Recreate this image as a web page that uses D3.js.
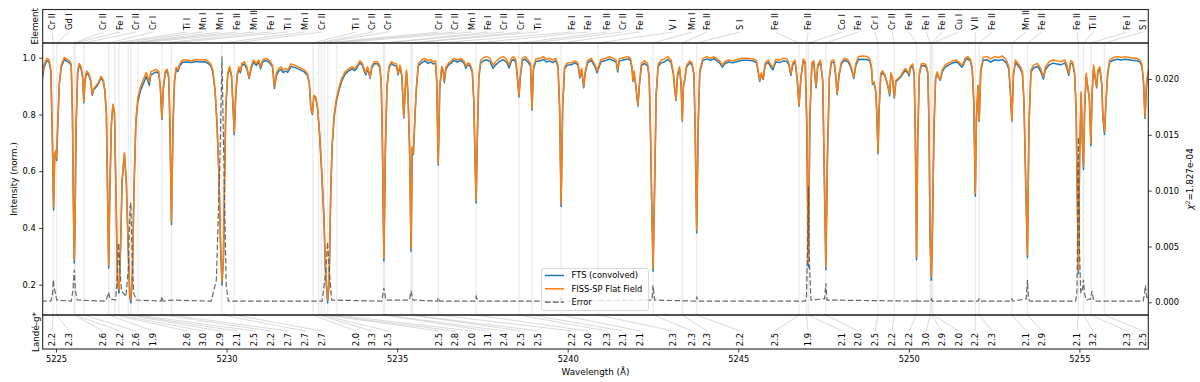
<!DOCTYPE html>
<html>
<head>
<meta charset="utf-8">
<script src="https://cdn.jsdelivr.net/npm/d3@7"></script>
<style>
body { margin: 0; background: #fff; }
text { font-family: "DejaVu Sans", sans-serif; fill: #000; }
</style>
</head>
<body>
<script>
// spectrum samples (wavelength in Angstrom, normalized intensity)
var wavelength = [
 5224.570,5224.648,5224.727,5224.794,5224.850,5224.895,5224.929,5224.962,5224.996,5225.018,
 5225.052,5225.097,5225.153,5225.243,5225.321,5225.400,5225.445,5225.479,5225.512,5225.535,
 5225.557,5225.591,5225.636,5225.681,5225.737,5225.782,5225.815,5225.849,5225.894,5225.961,
 5226.017,5226.062,5226.107,5226.230,5226.320,5226.387,5226.432,5226.477,5226.511,5226.544,
 5226.578,5226.623,5226.668,5226.713,5226.758,5226.802,5226.847,5226.892,5226.937,5227.005,
 5227.061,5227.117,5227.162,5227.195,5227.240,5227.285,5227.341,5227.397,5227.476,5227.566,
 5227.644,5227.689,5227.734,5227.779,5227.846,5227.936,5228.014,5228.059,5228.104,5228.149,
 5228.205,5228.261,5228.306,5228.340,5228.385,5228.430,5228.474,5228.519,5228.575,5228.631,
 5228.721,5228.856,5228.968,5229.102,5229.248,5229.360,5229.473,5229.540,5229.596,5229.664,
 5229.720,5229.776,5229.821,5229.866,5229.911,5229.944,5229.978,5230.034,5230.090,5230.146,
 5230.191,5230.225,5230.270,5230.314,5230.359,5230.404,5230.449,5230.516,5230.595,5230.662,
 5230.718,5230.785,5230.875,5230.943,5230.999,5231.055,5231.156,5231.268,5231.347,5231.403,
 5231.459,5231.526,5231.594,5231.661,5231.728,5231.796,5231.885,5231.998,5232.132,5232.278,
 5232.368,5232.424,5232.469,5232.514,5232.558,5232.615,5232.671,5232.727,5232.783,5232.850,
 5232.907,5232.962,5233.007,5233.052,5233.097,5233.153,5233.220,5233.299,5233.389,5233.479,
 5233.591,5233.680,5233.748,5233.815,5233.905,5233.972,5234.039,5234.084,5234.129,5234.174,
 5234.208,5234.253,5234.331,5234.421,5234.488,5234.533,5234.567,5234.612,5234.657,5234.702,
 5234.758,5234.825,5234.915,5234.982,5235.027,5235.083,5235.139,5235.195,5235.240,5235.274,
 5235.319,5235.364,5235.408,5235.442,5235.476,5235.521,5235.566,5235.621,5235.722,5235.812,
 5235.902,5235.991,5236.059,5236.126,5236.160,5236.205,5236.250,5236.306,5236.351,5236.384,
 5236.429,5236.508,5236.597,5236.665,5236.766,5236.867,5236.957,5237.013,5237.069,5237.136,
 5237.203,5237.248,5237.282,5237.316,5237.349,5237.394,5237.450,5237.540,5237.630,5237.720,
 5237.809,5237.888,5238.000,5238.112,5238.213,5238.280,5238.348,5238.415,5238.482,5238.527,
 5238.572,5238.617,5238.673,5238.751,5238.841,5238.909,5238.953,5238.998,5239.066,5239.200,
 5239.290,5239.380,5239.470,5239.560,5239.649,5239.717,5239.762,5239.807,5239.852,5239.908,
 5239.986,5240.098,5240.210,5240.300,5240.356,5240.412,5240.468,5240.513,5240.580,5240.692,
 5240.805,5240.861,5240.974,5241.111,5241.225,5241.339,5241.419,5241.465,5241.511,5241.659,
 5241.773,5241.841,5241.887,5241.910,5241.944,5241.990,5242.058,5242.104,5242.161,5242.252,
 5242.343,5242.389,5242.423,5242.457,5242.503,5242.549,5242.594,5242.651,5242.743,5242.845,
 5242.937,5243.028,5243.096,5243.142,5243.176,5243.222,5243.279,5243.324,5243.359,5243.393,
 5243.427,5243.484,5243.575,5243.644,5243.701,5243.735,5243.781,5243.826,5243.872,5243.963,
 5244.077,5244.191,5244.283,5244.374,5244.454,5244.534,5244.603,5244.717,5244.830,5244.967,
 5245.104,5245.275,5245.446,5245.537,5245.583,5245.629,5245.674,5245.731,5245.788,5245.880,
 5245.960,5246.017,5246.097,5246.211,5246.325,5246.427,5246.484,5246.541,5246.598,5246.667,
 5246.724,5246.781,5246.838,5246.906,5246.963,5247.009,5247.055,5247.100,5247.157,5247.215,
 5247.260,5247.283,5247.328,5247.408,5247.477,5247.522,5247.568,5247.614,5247.671,5247.728,
 5247.808,5247.853,5247.899,5247.956,5248.024,5248.115,5248.207,5248.275,5248.332,5248.389,
 5248.446,5248.526,5248.640,5248.777,5248.857,5248.903,5248.937,5248.983,5249.028,5249.062,
 5249.097,5249.131,5249.177,5249.233,5249.302,5249.370,5249.416,5249.439,5249.473,5249.519,
 5249.576,5249.622,5249.690,5249.758,5249.827,5249.895,5249.964,5250.009,5250.044,5250.112,
 5250.158,5250.192,5250.226,5250.260,5250.306,5250.363,5250.443,5250.511,5250.557,5250.591,
 5250.625,5250.660,5250.694,5250.740,5250.785,5250.831,5250.877,5250.922,5250.979,5251.059,
 5251.173,5251.288,5251.402,5251.470,5251.550,5251.595,5251.652,5251.721,5251.801,5251.857,
 5251.903,5251.949,5251.983,5252.029,5252.063,5252.108,5252.177,5252.291,5252.405,5252.519,
 5252.633,5252.747,5252.861,5252.930,5252.976,5253.021,5253.067,5253.124,5253.204,5253.273,
 5253.329,5253.375,5253.432,5253.477,5253.523,5253.580,5253.660,5253.774,5253.865,5253.945,
 5254.002,5254.116,5254.230,5254.344,5254.458,5254.573,5254.630,5254.687,5254.744,5254.801,
 5254.858,5254.903,5254.937,5254.972,5255.006,5255.052,5255.086,5255.120,5255.155,5255.200,
 5255.246,5255.291,5255.337,5255.371,5255.417,5255.462,5255.508,5255.542,5255.599,5255.656,
 5255.690,5255.736,5255.781,5255.827,5255.884,5255.998,5256.112,5256.226,5256.340,5256.455,
 5256.569,5256.683,5256.774,5256.832,5256.877,5256.923,5256.968,5257.014,5257.048
];

var fissFlat = [
 .909,.974,.998,.994,.957,.710,.475,.663,.674,.645,
 .768,.910,.974,1.001,.994,.989,.978,.827,.475,.287,
 .416,.768,.957,.980,.968,.933,.845,.921,.953,.945,
 .921,.872,.892,.910,.935,.921,.886,.804,.533,.269,
 .533,.768,.836,.810,.533,.216,.181,.334,.569,.665,
 .569,.334,.169,.146,.240,.533,.780,.857,.898,.924,
 .948,.933,.915,.951,.954,.959,.951,.898,.786,.898,
 .954,.959,.933,.768,.422,.768,.921,.966,.959,.980,
 .992,.992,.989,.994,.992,.994,.986,.978,.957,.886,
 .768,.592,.355,.209,.310,.592,.827,.945,.970,.939,
 .827,.735,.874,.945,.968,.954,.980,.986,.968,.931,
 .968,.992,.980,.992,.968,.992,.998,.989,.974,.898,
 .945,.962,.968,.957,.962,.957,.978,.974,.966,.957,
 .945,.915,.827,.804,.868,.862,.821,.733,.616,.451,
 .240,.146,.216,.522,.698,.798,.857,.898,.931,.951,
 .962,.968,.961,.970,.989,.982,.959,.945,.968,.951,
 .931,.970,.986,.986,.974,.921,.710,.293,.686,.898,
 .968,.986,.980,.978,.945,.974,.939,.792,.898,.957,
 .874,.686,.328,.686,.663,.792,.898,.980,.992,.998,
 .989,.994,.986,.989,.921,.627,.898,.970,.957,.919,
 .966,.982,.989,.998,.992,.998,.989,.970,.982,.978,
 .957,.850,.651,.498,.710,.933,.992,1.001,1.004,.998,
 .974,.986,.998,1.004,.994,.974,.998,1.004,.992,.933,
 .868,.945,.998,1.004,.992,.980,.821,.968,.996,.998,
 1.004,.994,.998,.992,.998,.974,.827,.486,.827,.968,
 .982,.982,.989,.982,.933,.962,.898,.951,.989,.998,
 .974,.954,.994,.998,1.004,.998,.992,.957,.996,1.001,
 1.004,.996,.968,.921,.954,.910,.833,.910,.980,.989,
 .980,.933,.768,.533,.257,.557,.874,.978,.992,.996,
 1.004,.992,.951,.886,.853,.945,.968,.910,.780,.904,
 .921,.974,.989,.982,.945,.757,.392,.768,.957,.998,
 1.004,.998,1.004,.996,.989,.974,.986,.992,.989,.994,
 .998,.998,.996,.989,.957,.921,.947,.927,.982,.992,
 .974,.966,.994,.992,.998,.996,.982,.945,.982,.992,
 .933,.833,.933,.996,.986,.768,.275,.792,.982,.989,
 .921,.898,.974,.992,.921,.592,.263,.651,.933,.989,
 .992,.945,.874,.945,.986,.998,.994,.980,.959,.931,
 .980,1.004,1.006,1.004,.996,.970,.910,.915,.886,.804,
 .668,.827,.945,.954,.939,.910,.886,.872,.947,.933,
 .862,.921,.927,.935,.951,.962,.954,.942,.970,.978,
 .945,.710,.298,.710,.945,.978,.980,.973,.951,.768,
 .357,.228,.416,.768,.931,.951,.933,.924,.957,.974,
 .982,.989,.992,.985,.974,.980,.998,1.004,.996,.968,
 .850,.522,.792,.904,.780,.957,1.001,1.004,.996,1.004,
 1.001,1.006,.992,.968,.886,.780,.945,.992,.980,.968,
 .951,.850,.533,.305,.768,.957,.974,.980,.962,.933,
 .968,.986,.992,.989,.986,.992,.974,.945,.989,.986,
 .951,.827,.533,.251,.651,.880,.710,.616,.827,.945,
 .898,.862,.698,.874,.974,.933,.898,.957,.968,.910,
 .792,.739,.850,.945,.992,1.001,1.004,1.001,1.004,1.001,
 .998,.998,.992,.978,.921,.792,.910,.951,.968
];

var ftsConvolved = [
 .905,.965,.990,.986,.950,.706,.463,.658,.669,.638,
 .764,.906,.967,.994,.987,.982,.971,.823,.467,.276,
 .408,.764,.950,.973,.961,.929,.841,.917,.946,.938,
 .917,.868,.887,.905,.929,.916,.882,.800,.525,.259,
 .525,.764,.832,.806,.525,.206,.171,.326,.561,.660,
 .561,.326,.159,.136,.232,.525,.770,.843,.884,.910,
 .934,.920,.903,.940,.944,.950,.944,.894,.782,.894,
 .947,.952,.929,.764,.412,.764,.917,.959,.952,.973,
 .984,.985,.983,.987,.985,.986,.979,.971,.950,.882,
 .764,.584,.347,.199,.300,.584,.823,.939,.963,.934,
 .823,.729,.870,.939,.961,.947,.973,.978,.961,.927,
 .961,.984,.973,.985,.961,.985,.991,.982,.967,.892,
 .936,.953,.959,.948,.953,.949,.969,.966,.959,.950,
 .938,.911,.823,.800,.864,.858,.817,.729,.610,.443,
 .230,.136,.206,.514,.694,.790,.847,.888,.922,.943,
 .955,.961,.954,.963,.982,.975,.952,.939,.961,.945,
 .927,.963,.979,.979,.967,.917,.706,.283,.682,.894,
 .961,.979,.973,.971,.940,.967,.935,.788,.894,.950,
 .870,.682,.318,.682,.659,.788,.894,.972,.983,.989,
 .980,.985,.978,.981,.917,.622,.894,.962,.950,.913,
 .959,.975,.982,.991,.985,.991,.982,.963,.975,.971,
 .950,.846,.645,.488,.706,.929,.982,.990,.992,.987,
 .963,.975,.987,.993,.984,.964,.988,.994,.983,.928,
 .862,.938,.990,.995,.983,.972,.816,.960,.987,.989,
 .994,.985,.989,.983,.990,.967,.823,.476,.823,.961,
 .974,.975,.982,.975,.929,.955,.894,.944,.982,.991,
 .967,.947,.986,.990,.996,.990,.985,.950,.988,.993,
 .996,.989,.961,.917,.947,.906,.829,.906,.972,.980,
 .971,.929,.764,.525,.247,.549,.870,.969,.982,.986,
 .994,.983,.944,.882,.849,.938,.961,.906,.776,.900,
 .917,.967,.982,.975,.940,.753,.382,.764,.950,.990,
 .996,.991,.997,.989,.982,.967,.979,.985,.982,.987,
 .991,.991,.989,.982,.950,.917,.940,.923,.975,.984,
 .966,.958,.985,.983,.989,.987,.974,.938,.975,.985,
 .929,.829,.929,.989,.979,.764,.262,.788,.975,.982,
 .917,.894,.967,.985,.917,.584,.253,.647,.929,.982,
 .985,.938,.870,.938,.979,.991,.987,.973,.952,.927,
 .973,.994,.995,.994,.988,.963,.906,.911,.882,.800,
 .662,.823,.938,.947,.935,.906,.882,.866,.940,.929,
 .858,.917,.923,.931,.944,.955,.947,.936,.963,.971,
 .938,.706,.288,.706,.938,.971,.973,.966,.944,.764,
 .347,.216,.406,.764,.927,.944,.929,.920,.950,.966,
 .975,.982,.985,.978,.967,.973,.991,.997,.989,.961,
 .846,.512,.788,.900,.776,.950,.991,.993,.985,.993,
 .990,.994,.982,.960,.882,.776,.938,.984,.972,.960,
 .944,.846,.525,.295,.764,.950,.964,.970,.952,.925,
 .958,.975,.981,.978,.975,.982,.965,.938,.981,.978,
 .944,.823,.523,.239,.645,.874,.704,.606,.823,.938,
 .894,.856,.690,.870,.967,.929,.894,.950,.961,.906,
 .786,.730,.846,.938,.984,.992,.995,.992,.995,.993,
 .990,.990,.985,.971,.917,.786,.906,.945,.962
];

// residual error (right axis)
var errWave = [5224.57,5224.85,5224.90,5224.92,5224.95,5224.98,5225.02,5225.45,5225.50,5225.535,
 5225.57,5225.62,5226.45,5226.52,5226.545,5226.58,5226.75,5226.80,5226.835,5226.87,
 5226.92,5226.98,5227.05,5227.12,5227.17,5227.195,5227.23,5227.28,5227.35,5228.08,
 5228.10,5228.14,5228.38,5229.55,5229.70,5229.80,5229.865,5229.93,5229.99,5230.05,
 5232.80,5232.90,5232.962,5233.02,5233.08,5234.55,5234.61,5234.67,5235.36,5235.41,
 5235.46,5236.18,5236.21,5236.25,5237.29,5237.32,5237.36,5239.78,5239.81,5239.85,
 5242.47,5242.50,5242.55,5243.76,5243.78,5243.81,5246.97,5247.00,5247.04,5247.055,
 5247.08,5247.13,5247.53,5247.568,5247.60,5250.21,5250.23,5250.25,5250.64,5250.66,
 5250.69,5252.03,5252.06,5252.09,5253.00,5253.02,5253.05,5253.44,5253.477,5253.51,
 5253.55,5254.89,5254.93,5254.972,5255.00,5255.04,5255.09,5255.12,5255.15,5255.20,
 5255.33,5255.37,5255.41,5255.45,5256.87,5256.91,5256.935,5256.97,5257.02];
var errValue = [.0001,.0001,.0008,.0020,.0012,.0009,.0002,.0001,.0012,.0029,
 .0010,.0002,.0001,.0006,.0009,.0003,.0002,.0025,.0053,.0030,
 .0010,.0008,.0005,.0030,.0085,.0089,.0040,.0008,.0002,.0001,
 .0005,.0001,.0002,.0001,.0020,.0120,.0220,.0110,.0015,.0001,
 .0001,.0025,.0054,.0025,.0002,.0001,.0013,.0002,.0002,.0010,
 .0002,.0001,.0004,.0001,.0001,.0005,.0001,.0001,.0005,.0001,
 .0002,.0015,.0002,.0001,.0005,.0001,.0001,.0005,.0060,.0104,
 .0040,.0002,.0003,.0017,.0002,.0001,.0003,.0001,.0001,.0003,
 .0001,.0001,.0003,.0001,.0001,.0003,.0001,.0003,.0020,.0003,
 .0001,.0001,.0010,.0148,.0050,.0008,.0012,.0020,.0008,.0002,
 .0003,.0010,.0003,.0001,.0001,.0008,.0015,.0005,.0003];

// line identifications
var elements = ["Cr II","Gd I","Cr II","Fe I","Cr II","Cr I","Ti I","Mn I","Mn I","Fe II",
 "Mn II","Fe I","Ti I","Mn I","Cr II","Ti I","Cr II","Cr II","Cr II","Cr II",
 "Mn I","Fe I","Cr II","Cr II","Ti I","Fe I","Fe I","Fe II","Cr II","Fe II",
 "V I","Mn I","Fe II","S I","Fe II","Fe II","Co I","Fe I","Cr I","Cr II",
 "Fe II","Fe I","Fe II","Cu I","V II","Fe II","Mn II","Fe II","Fe II","Ti II",
 "Fe I","S I"];
var landeG = ["2.2","2.3","2.6","2.2","2.6","1.9","2.6","3.0","2.9","2.1",
 "2.5","2.2","2.7","2.7","2.7","2.0","3.3","2.5","2.5","2.8",
 "2.0","3.1","2.4","2.5","2.5","2.2","2.0","2.3","2.1","2.1",
 "2.3","2.3","2.3","2.2","2.5","1.9","2.1","2.0","2.5","2.2",
 "2.2","3.0","2.9","2.0","2.2","2.3","2.1","2.9","2.1","3.2",
 "2.3","2.5"];
var lineWave = [5224.92,5225.02,5225.535,5225.56,5225.815,5226.544,5226.72,5226.847,5227.12,5227.195,
 5227.40,5228.104,5228.385,5229.865,5230.225,5232.53,5232.70,5232.78,5232.87,5232.962,
 5233.23,5234.60,5234.63,5235.408,5235.44,5236.205,5237.316,5238.572,5238.953,5239.807,
 5240.89,5242.503,5243.359,5243.781,5246.781,5247.00,5247.055,5247.568,5249.097,5249.576,
 5250.226,5250.63,5250.66,5250.70,5251.949,5252.063,5253.021,5253.477,5254.972,5255.12,
 5255.337,5255.736];
var labelWave = [5224.883,5225.381,5226.378,5226.876,5227.345,5227.844,5228.841,5229.310,5229.808,5230.306,
 5230.805,5231.303,5231.802,5232.300,5232.798,5233.795,5234.264,5234.733,5236.228,5236.697,
 5237.196,5237.665,5238.134,5238.632,5239.131,5240.128,5240.597,5241.154,5241.623,5242.121,
 5243.089,5243.646,5244.085,5245.053,5246.079,5247.046,5248.043,5248.512,5249.010,5249.509,
 5250.007,5250.505,5250.974,5251.473,5251.942,5252.441,5253.437,5253.906,5254.932,5255.401,
 5256.398,5256.867];

var xTicks = [5225, 5230, 5235, 5240, 5245, 5250, 5255];
var intensityTicks = [0.2, 0.4, 0.6, 0.8, 1.0];
var errorTicks = [0, 0.005, 0.010, 0.015, 0.020];

var width = 1200, height = 382;
var box = {left: 42.7, right: 1148.3, top: 9.5, elem: 43, main: 315, bottom: 349};
var fs = 8.3;

var svg = d3.select("body").append("svg")
  .attr("width", width)
  .attr("height", height);

var xScale = d3.scaleLinear().domain([5224.61, 5257.02]).range([box.left, box.right]);
var yScale = d3.scaleLinear().domain([0.093, 1.052]).range([box.main, box.elem]);
var eScale = d3.scaleLinear().domain([-0.00114, 0.02322]).range([box.main, box.elem]);

svg.append("clipPath").attr("id", "clipMain")
  .append("rect")
  .attr("x", box.left).attr("y", box.elem)
  .attr("width", box.right - box.left).attr("height", box.main - box.elem);

var mainG = svg.append("g").attr("clip-path", "url(#clipMain)");

// light grey bands at every identified line
mainG.selectAll("rect.band")
  .data(lineWave)
  .enter()
  .append("rect")
  .attr("class", "band")
  .attr("x", function(d) { return xScale(d) - 0.7; })
  .attr("y", box.elem)
  .attr("width", 1.4)
  .attr("height", box.main - box.elem)
  .attr("fill", "#dcdcdc")
  .attr("opacity", 0.55);

var n = Math.min(wavelength.length, fissFlat.length, ftsConvolved.length);
var idx = d3.range(n);

var ftsLine = d3.line()
  .x(function(i) { return xScale(wavelength[i]); })
  .y(function(i) { return yScale(ftsConvolved[i]); });
var fissLine = d3.line()
  .x(function(i) { return xScale(wavelength[i]); })
  .y(function(i) { return yScale(fissFlat[i]); });
var errLine = d3.line()
  .x(function(i) { return xScale(errWave[i]); })
  .y(function(i) { return eScale(errValue[i]); });

mainG.append("path")
  .attr("d", ftsLine(idx))
  .attr("fill", "none")
  .attr("stroke", "#1f77b4")
  .attr("stroke-width", 1.5)
  .attr("stroke-linejoin", "round");

mainG.append("path")
  .attr("d", fissLine(idx))
  .attr("fill", "none")
  .attr("stroke", "#ff7f0e")
  .attr("stroke-width", 1.5)
  .attr("stroke-linejoin", "round");

mainG.append("path")
  .attr("d", errLine(d3.range(Math.min(errWave.length, errValue.length))))
  .attr("fill", "none")
  .attr("stroke", "#505050")
  .attr("stroke-width", 1.2)
  .attr("stroke-dasharray", "5.5,2.4")
  .attr("opacity", 0.85);

// element panel (top) and Lande-g panel (bottom)
var elemG = svg.append("g");
elemG.selectAll("line")
  .data(d3.range(elements.length))
  .enter()
  .append("line")
  .attr("x1", function(i) { return xScale(labelWave[i]); })
  .attr("y1", 32)
  .attr("x2", function(i) { return xScale(lineWave[i]); })
  .attr("y2", box.elem)
  .attr("stroke", "#c0c0c0")
  .attr("stroke-width", 0.6);
elemG.selectAll("text")
  .data(d3.range(elements.length))
  .enter()
  .append("text")
  .attr("transform", function(i) { return "translate(" + xScale(labelWave[i]) + ",30) rotate(-90)"; })
  .attr("dy", "0.35em")
  .attr("font-size", fs)
  .text(function(i) { return elements[i]; });

var landeGroup = svg.append("g");
landeGroup.selectAll("line")
  .data(d3.range(landeG.length))
  .enter()
  .append("line")
  .attr("x1", function(i) { return xScale(lineWave[i]); })
  .attr("y1", box.main)
  .attr("x2", function(i) { return xScale(labelWave[i]); })
  .attr("y2", 331)
  .attr("stroke", "#c0c0c0")
  .attr("stroke-width", 0.6);
landeGroup.selectAll("text")
  .data(d3.range(landeG.length))
  .enter()
  .append("text")
  .attr("transform", function(i) { return "translate(" + xScale(labelWave[i]) + ",333) rotate(-90)"; })
  .attr("dy", "0.35em")
  .attr("text-anchor", "end")
  .attr("font-size", fs)
  .text(function(i) { return landeG[i]; });

// frames
[[box.top, box.elem], [box.elem, box.main], [box.main, box.bottom]].forEach(function(p) {
  svg.append("rect")
    .attr("x", box.left).attr("y", p[0])
    .attr("width", box.right - box.left).attr("height", p[1] - p[0])
    .attr("fill", "none")
    .attr("stroke", "#262626")
    .attr("stroke-width", 1.1);
});

// axes
function styleAxis(g) {
  g.select(".domain").remove();
  g.attr("font-size", fs).attr("font-family", "DejaVu Sans");
  g.selectAll("line").attr("stroke", "#262626").attr("stroke-width", 0.9);
}

svg.append("g")
  .attr("transform", "translate(" + box.left + ",0)")
  .call(d3.axisLeft(yScale).tickValues(intensityTicks).tickFormat(d3.format(".1f")).tickSize(3.5).tickPadding(3.5))
  .call(styleAxis);

svg.append("g")
  .attr("transform", "translate(" + box.right + ",0)")
  .call(d3.axisRight(eScale).tickValues(errorTicks).tickFormat(d3.format(".3f")).tickSize(3.5).tickPadding(3.5))
  .call(styleAxis);

svg.append("g")
  .attr("transform", "translate(0," + box.bottom + ")")
  .call(d3.axisBottom(xScale).tickValues(xTicks).tickFormat(d3.format("d")).tickSize(3.5).tickPadding(3.5))
  .call(styleAxis);

// axis titles
function vlabel(x, y, txt) {
  return svg.append("text")
    .attr("transform", "translate(" + x + "," + y + ") rotate(-90)")
    .attr("dy", "0.35em")
    .attr("text-anchor", "middle")
    .attr("font-size", 8.8)
    .text(txt);
}
vlabel(35, (box.top + box.elem) / 2, "Element");
vlabel(13.5, (box.elem + box.main) / 2, "Intensity (norm.)");
vlabel(35.5, (box.main + box.bottom) / 2, "Landé-g*");

var chi = svg.append("text")
  .attr("transform", "translate(1190," + ((box.elem + box.main) / 2) + ") rotate(-90)")
  .attr("dy", "0.35em")
  .attr("text-anchor", "middle")
  .attr("font-size", 8.8);
chi.append("tspan").attr("font-style", "italic").text("χ");
chi.append("tspan").attr("font-size", 6.2).attr("dy", "-0.55em").text("2");
chi.append("tspan").attr("dy", "0.4em").text("=1.827e-04");

svg.append("text")
  .attr("x", (box.left + box.right) / 2)
  .attr("y", 375)
  .attr("text-anchor", "middle")
  .attr("font-size", 8.8)
  .text("Wavelength (Å)");

// legend
var legendItems = ["FTS (convolved)", "FISS-SP Flat Field", "Error"];
var legendColors = ["#1f77b4", "#ff7f0e", "#505050"];
var leg = svg.append("g").attr("transform", "translate(541.5,268.5)");
leg.append("rect")
  .attr("width", 107).attr("height", 42)
  .attr("rx", 2.5)
  .attr("fill", "#fff").attr("fill-opacity", 0.8)
  .attr("stroke", "#d0d0d0").attr("stroke-width", 0.8);
legendItems.forEach(function(name, i) {
  var yy = 7 + i * 13.3;
  leg.append("line")
    .attr("x1", 3.5).attr("x2", 22.5)
    .attr("y1", yy).attr("y2", yy)
    .attr("stroke", legendColors[i])
    .attr("stroke-width", i == 2 ? 1.2 : 1.5)
    .attr("stroke-dasharray", i == 2 ? "5.5,2.4" : null);
  leg.append("text")
    .attr("x", 30).attr("y", yy)
    .attr("dy", "0.35em")
    .attr("font-size", fs)
    .text(name);
});
</script>
</body>
</html>
